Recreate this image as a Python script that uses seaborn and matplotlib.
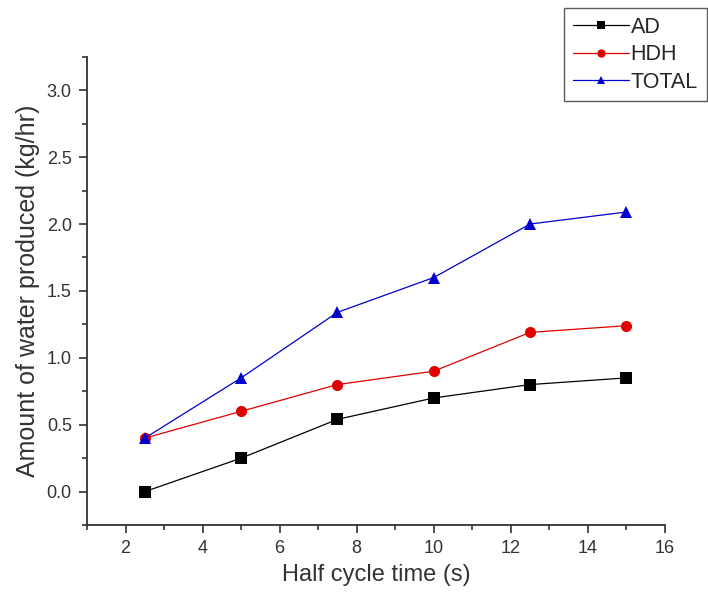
import numpy as np
import pandas as pd
import matplotlib
matplotlib.use("Agg")
import matplotlib.pyplot as plt
from matplotlib.ticker import MultipleLocator, FormatStrFormatter
import seaborn as sns

half_cycle = [2.5, 5.0, 7.5, 10.0, 12.5, 15.0]
ad = [0.0, 0.25, 0.54, 0.70, 0.80, 0.85]
hdh = [0.40, 0.60, 0.80, 0.90, 1.19, 1.24]
total = [0.40, 0.85, 1.34, 1.60, 2.00, 2.09]
series_names = ["AD", "HDH", "TOTAL"]

df = pd.DataFrame({
    "x": half_cycle * 3,
    "y": ad + hdh + total,
    "series": [s for s in series_names for _ in half_cycle],
})

sns.set_style("ticks")
plt.rcParams["font.family"] = ["Liberation Sans", "DejaVu Sans"]

ink = "#333333"
fig = plt.figure(figsize=(7.08, 5.98), dpi=100)
ax = fig.add_axes([0.123, 0.122, 0.816, 0.783])

sns.lineplot(
    data=df, x="x", y="y", hue="series", style="series",
    palette={"AD": "black", "HDH": "#e00000", "TOTAL": "#0000cc"},
    markers={"AD": "s", "HDH": "o", "TOTAL": "^"},
    dashes=False, markersize=8, linewidth=0.9, markeredgewidth=0,
    ax=ax, legend=True,
)

ax.set_xlim(1, 16)
ax.set_ylim(-0.25, 3.25)
ax.xaxis.set_major_locator(MultipleLocator(2))
ax.xaxis.set_minor_locator(MultipleLocator(1))
ax.yaxis.set_major_locator(MultipleLocator(0.5))
ax.yaxis.set_minor_locator(MultipleLocator(0.25))
ax.yaxis.set_major_formatter(FormatStrFormatter("%.1f"))
ax.tick_params(which="major", direction="out", length=6, width=1.2, labelsize=13, colors=ink, pad=5)
ax.tick_params(which="minor", direction="out", length=3.5, width=1.2, colors=ink)
for side in ("top", "right"):
    ax.spines[side].set_visible(False)
for side in ("left", "bottom"):
    ax.spines[side].set_linewidth(1.3)
    ax.spines[side].set_color(ink)

ax.set_xlabel("Half cycle time (s)", fontsize=17, color=ink, labelpad=5)
ax.set_ylabel("Amount of water produced (kg/hr)", fontsize=18, color=ink, labelpad=5)

leg = ax.legend(
    loc="upper left", bbox_to_anchor=(564 / 708, 1 - 8 / 598),
    bbox_transform=fig.transFigure, frameon=True, fancybox=False,
    fontsize=15.5, handlelength=2.6, handletextpad=0.1, borderpad=0.4,
    labelspacing=0.3, borderaxespad=0, markerscale=0.75,
)
leg.get_frame().set_edgecolor(ink)
leg.get_frame().set_linewidth(1.0)

fig.savefig("out.png", dpi=100, facecolor="white")
